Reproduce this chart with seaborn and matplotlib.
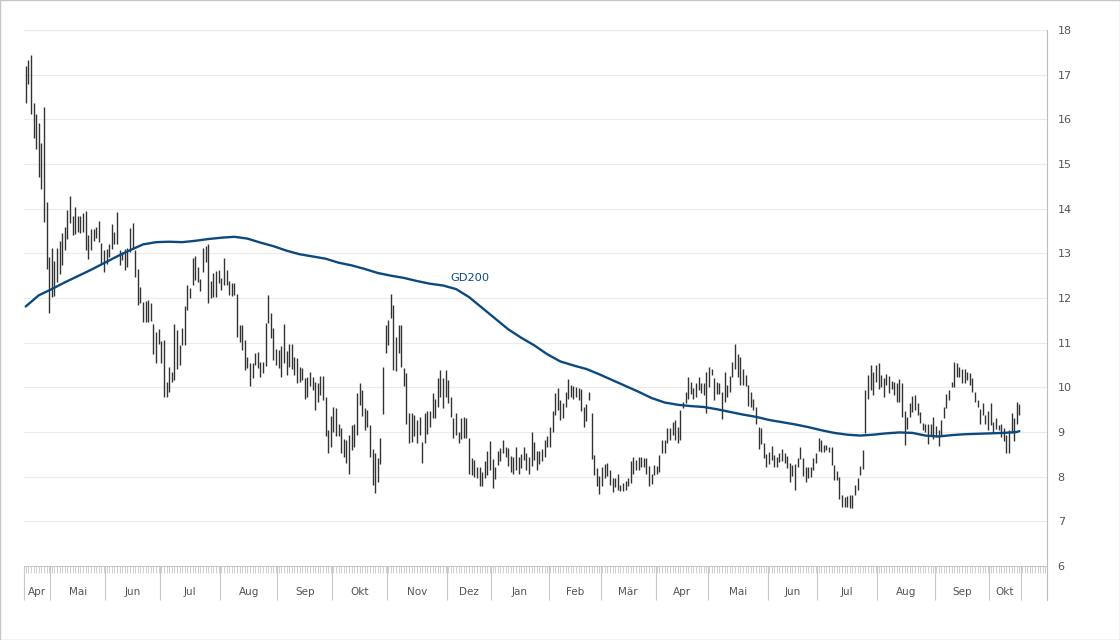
import numpy as np
import matplotlib
matplotlib.use("Agg")
import matplotlib.pyplot as plt
import matplotlib.transforms as mtransforms
from matplotlib.patches import Rectangle
import seaborn as sns
import pandas as pd

# ---------------- data ----------------
high_1 = [17.19,17.33,17.44,16.36,16.11,15.91,15.48,16.28,14.16,12.91,13.13,12.83,13.11,13.28,13.45,13.6,13.97,14.29,13.84,14.03,
          13.84,13.84,13.91,13.95,13.4,13.54,13.54,13.6,13.73,13.24,13.07,13.1,13.22,13.66,13.48,13.92,13.07,13.04,13.09,13.11,
          13.56,13.68,13.07,12.65,12.24,11.92,11.94,11.95,11.88,11.42,11.24,11.3,11.04,11.07,10.12,10.46,10.35,11.41,11.28,10.95,
          11.32,11.82,12.3,12.22,12.89,12.93,12.7,12.42,13.13,13.16,13.21,12.38,12.57,12.6,12.63,12.44,12.89,12.63]
low_1 = [16.36,16.78,16.11,15.59,15.33,14.70,14.45,13.71,12.66,11.66,12.03,12.05,12.35,12.54,12.75,13.07,13.32,13.67,13.42,13.43,
         13.48,13.45,13.48,13.07,12.88,13.07,13.28,13.35,13.26,12.77,12.59,12.77,12.92,13.09,13.22,13.21,12.74,12.85,12.63,12.7,
         13.04,13.09,12.46,11.84,11.88,11.47,11.47,11.47,11.49,10.75,10.54,10.98,10.54,9.79,9.79,9.9,10.12,10.16,10.42,10.5,
         10.95,10.95,11.73,11.99,12.29,12.4,12.36,12.16,12.59,12.81,11.88,11.99,12.03,12.03,12.33,12.18,12.29,12.29]
high_2 = [12.37,12.34,12.33,12.1,11.4,11.4,11.06,10.69,10.54,10.54,10.76,10.8,10.57,10.57,11.45,12.07,11.66,11.32,10.85,10.84,
          10.93,11.42,10.82,10.97,10.98,10.69,10.65,10.46,10.43,10.22,10.24,10.35,10.24,10.13,10.09,10.26,10.26,9.79,9.04,9.36,
          9.55,9.53,9.19,9.08,8.84,8.82,8.93,9.16,9.19,9.88,10.1,9.94,9.53,9.49,9.16,8.63,8.52,8.41,8.86,10.45,
          11.4,11.51,12.1,11.84,11.13,11.4,11.4,10.43,10.33,9.42,9.42,9.38,9.27,9.33,8.78,9.42,9.46,9.46,9.88]
low_2 = [12.07,12.04,12.07,11.13,11.02,10.84,10.39,10.43,10.02,10.2,10.5,10.43,10.24,10.31,10.48,11.43,11.1,10.61,10.5,10.43,
         10.24,10.55,10.28,10.45,10.4,10.28,10.09,10.13,10.16,9.73,9.79,10.02,9.94,9.49,9.68,9.83,9.72,8.91,8.54,8.67,
         9.01,8.9,8.9,8.54,8.45,8.31,8.07,8.6,8.67,8.93,9.6,9.36,9.04,9.12,8.45,7.81,7.63,7.89,8.28,9.4,
         10.76,10.95,11.55,10.39,10.37,10.76,10.46,10.03,9.18,8.76,8.78,8.9,8.76,8.93,8.3,8.75,8.96,9.12,9.31]
high_3 = [9.75,10.2,10.39,10.2,10.39,10.16,9.79,9.31,9.42,9.01,9.31,9.33,9.31,8.86,8.41,8.37,8.21,8.21,8.11,8.36,
          8.58,8.8,8.39,8.21,8.58,8.64,8.82,8.66,8.64,8.46,8.43,8.66,8.45,8.51,8.66,8.52,8.45,8.99,8.78,8.58,
          8.58,8.61,8.82,8.91,9.12,9.46,9.87,9.98,9.72,9.64,9.9,10.18,10.05,10.03,10.01,9.98,9.96,9.55,9.63,9.9,
          9.43,8.49,8.19,8.02,8.22,8.28,8.31,8.15,7.98,7.98,8.07,7.81,7.85,7.91,7.96,8.34,8.45,8.37]
low_3 = [9.31,9.57,9.79,9.53,9.79,9.66,9.34,8.86,8.93,8.75,8.84,8.86,8.86,8.07,8.04,8.0,7.98,7.79,7.78,7.96,
         8.04,8.15,7.74,7.94,8.26,8.34,8.52,8.45,8.24,8.11,8.06,8.15,8.07,8.19,8.37,8.15,8.07,8.24,8.37,8.15,
         8.28,8.34,8.45,8.66,8.66,9.01,9.38,9.49,9.27,9.31,9.57,9.75,9.79,9.75,9.79,9.72,9.46,9.12,9.25,9.72,
         8.39,8.04,7.78,7.61,7.79,7.96,8.01,7.81,7.66,7.76,7.7,7.69,7.69,7.7,7.78,7.85,8.07,8.15]
high_4 = [8.45,8.43,8.41,8.42,8.24,8.07,8.26,8.24,8.48,8.82,8.82,9.08,9.1,9.23,9.27,9.12,9.49,9.68,9.9,10.24,
          10.13,9.98,10.09,10.24,10.09,10.09,10.35,10.45,10.4,10.2,10.13,10.09,9.9,10.35,10.05,10.25,10.57,10.97,10.75,10.67,
          10.4,10.28,10.05,9.9,9.75,9.55,9.12,9.08,8.75,8.51,8.56,8.68,8.48,8.43,8.52,8.63,8.54,8.46,8.3,8.26,
          8.28,8.41,8.67,8.41,8.22,8.22,8.22,8.41,8.54,8.86,8.81,8.71,8.71,8.67,8.66,8.26,8.13,8.0,7.59,7.55,
          7.57,7.6,7.6,7.82,7.97,8.23,8.6]
low_4 = [8.15,8.21,8.21,8.07,7.79,7.84,8.04,8.07,8.11,8.54,8.54,8.75,8.83,8.93,8.83,8.76,8.81,9.53,9.66,9.75,
         9.86,9.75,9.79,9.94,9.88,9.83,9.42,10.01,10.28,9.72,9.86,9.86,9.28,9.68,9.79,9.9,10.24,10.42,10.24,10.05,
         10.05,10.03,9.58,9.55,9.49,9.19,8.63,8.73,8.41,8.22,8.28,8.37,8.22,8.22,8.33,8.36,8.3,8.19,7.89,8.01,
         7.7,8.21,8.39,8.01,7.89,7.96,8.0,8.16,8.3,8.58,8.56,8.56,8.6,8.56,8.26,7.92,7.92,7.51,7.33,7.33,
         7.31,7.29,7.3,7.58,7.71,8.04,8.18]
high_5 = [9.94,10.28,10.5,10.35,10.5,10.55,10.28,10.2,10.3,10.25,10.15,10.13,10.09,10.18,10.09,9.48,9.34,9.64,9.8,9.83,
          9.66,9.45,9.21,9.19,9.18,9.19,9.34,9.13,9.04,9.27,9.57,9.85,9.95,10.13,10.57,10.54,10.46,10.4,10.4,10.35,
          10.31,10.22,9.9,9.72,9.51,9.66,9.38,9.48,9.66,9.23,9.31,9.16,9.19,9.1,8.93,9.04,9.43,9.31,9.68,9.62]
low_5 = [8.97,9.75,9.94,9.83,10.13,9.96,10.01,9.79,10.05,9.88,9.96,9.83,9.68,9.68,9.34,8.71,9.06,9.34,9.45,9.49,
         9.38,9.21,9.04,9.01,8.73,8.93,8.84,8.88,8.69,8.93,9.31,9.53,9.72,10.0,10.01,10.24,10.24,10.1,10.09,10.16,
         10.05,9.9,9.68,9.57,9.19,9.38,9.18,9.04,9.16,8.98,9.06,9.04,8.89,8.8,8.52,8.52,8.98,8.8,9.19,9.38]

# GD200 (200-day moving average) read every 5 trading days, plus the last day
gd200 = [11.81,12.06,12.2,12.35,12.49,12.63,12.78,12.93,13.07,13.2,
         13.25,13.26,13.25,13.28,13.32,13.35,13.37,13.33,13.24,13.16,
         13.06,12.98,12.93,12.88,12.79,12.73,12.65,12.56,12.5,12.45,
         12.38,12.32,12.28,12.2,12.02,11.78,11.54,11.3,11.11,10.94,
         10.74,10.58,10.49,10.41,10.29,10.16,10.03,9.9,9.76,9.66,
         9.61,9.58,9.56,9.51,9.45,9.39,9.34,9.27,9.22,9.17,
         9.11,9.04,8.98,8.94,8.92,8.94,8.97,8.99,8.98,8.92,
         8.9,8.93,8.95,8.96,8.97,8.98,9.0,9.02]

month_labels = ["Apr","Mai","Jun","Jul","Aug","Sep","Okt","Nov","Dez","Jan","Feb","Mär",
                "Apr","Mai","Jun","Jul","Aug","Sep","Okt"]
# trading-day index where each month begins (boundary between bars)
month_starts = [-0.65, 9.5, 30.5, 51.5, 74.5, 96.5, 117.5, 138.5, 161.5, 178.5, 200.5, 220.5,
                241.5, 261.5, 284.5, 303.5, 326.5, 348.5, 369.5, 381.5]
y_ticks = [6,7,8,9,10,11,12,13,14,15,16,17,18]

high = high_1 + high_2 + high_3 + high_4 + high_5
low = low_1 + low_2 + low_3 + low_4 + low_5
n = len(high)
n_slots = 392  # trading-day slots on the axis (incl. empty tail)

df = pd.DataFrame({"day": np.arange(n), "high": high, "low": low})
gd_days = list(range(0, n - 1, 5)) + [n - 1]
gd_df = pd.DataFrame({"day": gd_days[:len(gd200)], "gd": gd200[:len(gd_days)]})

# ---------------- style ----------------
sns.set_theme(style="white")
plt.rcParams["font.family"] = ["DejaVu Sans"]

W, H = 1120, 640
fig = plt.figure(figsize=(W / 100, H / 100), dpi=100)
fig.patch.set_facecolor("white")
fig.patches.append(Rectangle((0, 0), 1, 1, transform=fig.transFigure, fill=False,
                             edgecolor="#c6c6c6", linewidth=1.0))

left_px, right_px, top_px, bottom_px = 24, 1046.5, 30, 566
ax = fig.add_axes([left_px / W, (H - bottom_px) / H,
                   (right_px - left_px) / W, (bottom_px - top_px) / H])
ax.set_facecolor("white")

# grid
for v in y_ticks:
    ax.axhline(v, color="#ebebeb", lw=0.8, zorder=0)

# high-low bars
ax.vlines(df["day"], df["low"], df["high"], color="#333333", linewidth=1.0, zorder=2)

# moving average
sns.lineplot(data=gd_df, x="day", y="gd", ax=ax, color="#0c4a7e", linewidth=1.7,
             zorder=3, legend=False)
ax.text(170.4, 12.45, "GD200", color="#0c4a7e", fontsize=8.2, ha="center", va="center")

ax.set_xlim(-0.65, 391.4)
ax.set_ylim(6, 18)
ax.set_xlabel("")
ax.set_ylabel("")

# y axis on the right
ax.yaxis.tick_right()
ax.set_yticks(y_ticks)
ax.set_yticklabels([str(v) for v in y_ticks])
ax.tick_params(axis="y", length=0, pad=8, labelsize=8, labelcolor="#555555")

# x axis: daily minor ticks, month separators as major ticks
ax.set_xticks(month_starts)
ax.set_xticklabels([])
ax.set_xticks(np.arange(0, n_slots), minor=True)
ax.tick_params(axis="x", which="both", bottom=True, top=False, direction="out")
ax.tick_params(axis="x", which="major", length=24.5, width=0.8, color="#c8c8c8")
ax.tick_params(axis="x", which="minor", length=5.2, width=0.6, color="#c8c8c8")

trans = mtransforms.blended_transform_factory(ax.transData, ax.transAxes)
for i, lab in enumerate(month_labels):
    cx = (month_starts[i] + month_starts[i + 1]) / 2
    ax.text(cx, -26 / (bottom_px - top_px), lab, transform=trans, ha="center", va="center",
            fontsize=7.5, color="#555555")

for s in ["left", "top"]:
    ax.spines[s].set_visible(False)
ax.spines["bottom"].set_color("#c8c8c8")
ax.spines["bottom"].set_linewidth(0.8)
ax.spines["right"].set_color("#bdbdbd")
ax.spines["right"].set_linewidth(0.8)
# right axis line continues below the plot area
ax.plot([1, 1], [0, -34 / (bottom_px - top_px)], transform=ax.transAxes, color="#bdbdbd",
        lw=0.8, clip_on=False)

fig.savefig("out.png", dpi=100, facecolor="white")
